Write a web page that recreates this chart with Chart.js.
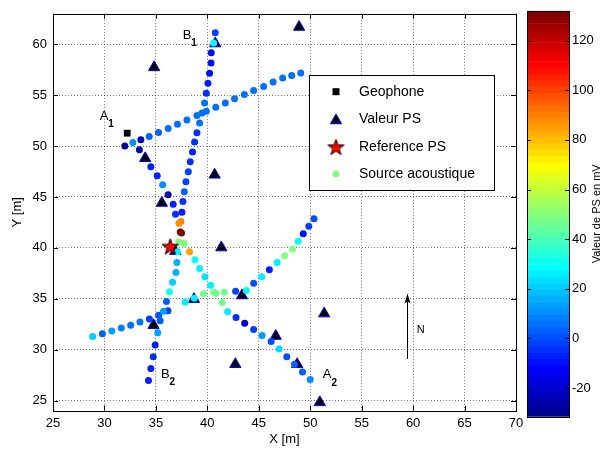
<!DOCTYPE html>
<html>
<head>
<meta charset="utf-8">
<script src="https://cdn.jsdelivr.net/npm/chart.js@4/dist/chart.umd.min.js"></script>
<style>
  html, body { margin: 0; padding: 0; background: #fff; }
  #wrap { position: relative; width: 609px; height: 450px; }
  #plot { position: absolute; left: 0; top: 0; }
  #cbar { position: absolute; left: 520px; top: 0; }
</style>
</head>
<body>
<div id="wrap">
  <canvas id="plot" width="609" height="450"></canvas>
  <canvas id="cbar" width="89" height="450"></canvas>
</div>
<script>
// profil A1 -> nord-est
const lineNE_x = [31.98,32.76,33.54,34.35,35.25,36.20,37.10,38.02,38.99,39.90,40.82,41.75,42.65,43.60,44.50,45.47,46.39,47.32,48.20,49.08];
const lineNE_y = [50.01,50.36,50.62,50.94,51.33,51.72,52.15,52.57,53.00,53.42,53.81,54.23,54.65,55.08,55.47,55.86,56.29,56.69,56.93,57.19];
const lineNE_mv = [-27,10,-24,2,4,5,5,6,6,6,6,6,6,6,6,6,6,6,6,6];

// profil A1 -> A2
const lineA_x = [33.40,34.51,35.13,35.66,36.19,36.68,36.91,37.24,37.37,37.76,38.27,38.80,39.25,39.77,40.32,40.84,41.43,41.97,42.79,43.63,44.50,45.32,46.20,46.98,47.72,48.47,49.25,50.00];
const lineA_y = [49.65,47.96,47.08,46.19,45.23,44.29,43.31,42.43,41.56,40.42,39.61,38.83,37.98,37.17,36.32,35.54,34.64,33.73,33.15,32.59,31.98,31.39,30.81,30.06,29.31,28.57,27.81,27.06];
const lineA_mv = [-27,-6,-6,10,-24,-8,-5,88,132,50,85,28,26,24,26,46,46,26,-5,-20,-3,14,0,24,0,2,3,10];

// profil B1 -> B2
const lineB_x = [40.77,40.61,40.38,40.36,40.22,40.06,39.90,39.73,39.48,39.25,38.99,38.76,38.56,38.34,38.15,37.92,37.76,37.63,37.53,37.43,37.49,37.24,37.10,37.04,36.95,36.62,36.32,36.03,35.74,35.42,35.18,34.93,34.74,34.51,34.28];
const lineB_y = [61.15,60.14,59.17,58.16,57.15,56.18,55.20,54.23,53.26,52.28,51.30,50.40,49.42,48.45,47.47,46.50,45.52,44.55,43.51,42.60,41.46,40.58,39.61,38.57,37.59,36.62,35.68,34.74,33.76,32.83,31.65,30.45,29.31,28.14,26.97];
const lineB_mv = [-2,28,-10,-10,-10,-8,-4,5,6,5,-4,-4,-6,-4,-2,-2,3,-4,-6,90,130,50,27,16,16,20,30,2,14,2,12,-6,-4,-6,-6];

// profil sud-ouest -> nord-est
const lineSW_x = [28.85,29.80,30.72,31.64,32.55,33.45,34.37,35.27,36.17,37.85,38.73,39.63,40.61,41.65,42.75,43.79,44.50,45.28,46.03,46.78,47.52,48.28,48.83,49.32,49.86,50.37];
const lineSW_y = [31.29,31.55,31.84,32.13,32.40,32.71,33.00,33.39,33.83,34.67,35.06,35.49,35.64,35.64,35.74,35.81,36.52,37.17,37.85,38.56,39.22,39.90,40.65,41.39,42.12,42.85];
const lineSW_mv = [22,3,12,8,6,6,-2,0,-3,27,27,46,48,46,-3,28,0,27,-8,26,48,50,28,-10,-3,0];

// valeurs PS (triangles)
const ps_x = [48.92,40.77,34.83,33.96,40.71,35.58,41.36,36.88,38.70,43.37,34.77,42.72,46.65,48.73,51.36,50.93];
const ps_y = [61.70,60.08,57.74,48.80,47.18,44.41,40.03,39.68,34.96,35.32,32.40,28.56,31.33,28.56,33.54,24.82];

const geo_x = [32.21], geo_y = [51.27];
const ref_x = [36.39], ref_y = [40.17];

const xTicks = [25,30,35,40,45,50,55,60,65,70];
const yTicks = [25,30,35,40,45,50,55,60];
const cbTicks = [-20,0,20,40,60,80,100,120];
const cMin = -31.5, cMax = 132;

Chart.defaults.font.family = '"Liberation Sans", Arial, Helvetica, sans-serif';
Chart.defaults.color = '#000';

// colormap jet(64) comme matlab
function jetMap(m) {
  const n = Math.ceil(m / 4);
  const u = [];
  for (let i = 1; i <= n; i++) u.push(i / n);
  for (let i = 0; i < n - 1; i++) u.push(1);
  for (let i = n; i >= 1; i--) u.push(i / n);
  const J = [];
  for (let i = 0; i < m; i++) J.push([0, 0, 0]);
  const g0 = Math.ceil(n / 2) - (m % 4 === 1 ? 1 : 0);
  u.forEach(function (val, k) {
    const g = g0 + k + 1, r = g + n, b = g - n;
    if (r >= 1 && r <= m) J[r - 1][0] = val;
    if (g >= 1 && g <= m) J[g - 1][1] = val;
    if (b >= 1 && b <= m) J[b - 1][2] = val;
  });
  return J;
}
const jet = jetMap(64);
function rgb(c) {
  return 'rgb(' + Math.round(c[0] * 255) + ',' + Math.round(c[1] * 255) + ',' + Math.round(c[2] * 255) + ')';
}
function colorOf(v) {
  let k = Math.floor((v - cMin) / (cMax - cMin) * 64);
  k = Math.max(0, Math.min(63, k));
  return rgb(jet[k]);
}
function pts(xs, ys) {
  return xs.map(function (x, i) { return { x: x, y: ys[i] }; });
}

function makeStar(R) {
  const c = document.createElement('canvas');
  const s = Math.ceil(2 * R + 4);
  c.width = s; c.height = s;
  const g = c.getContext('2d');
  g.beginPath();
  for (let k = 0; k < 10; k++) {
    const rr = k % 2 ? R * 0.4 : R;
    const a = k * Math.PI / 5;
    g.lineTo(s / 2 + Math.sin(a) * rr, s / 2 + 1 - Math.cos(a) * rr);
  }
  g.closePath();
  g.fillStyle = '#ff0000';
  g.fill();
  g.strokeStyle = '#000';
  g.lineWidth = 1;
  g.stroke();
  return c;
}
const starImg = makeStar(8.5);

function drawTri(ctx, x, y, r) {
  ctx.beginPath();
  for (let k = 0; k < 3; k++) {
    const a = k * 2 * Math.PI / 3;
    ctx.lineTo(x + Math.sin(a) * r, y - Math.cos(a) * r);
  }
  ctx.closePath();
  ctx.fillStyle = '#000';
  ctx.fill();
  ctx.strokeStyle = '#0000ff';
  ctx.lineWidth = 1;
  ctx.stroke();
}

const FONT = '"Liberation Sans", Arial, Helvetica, sans-serif';

// cadre, graduations interieures, textes et legende
const framePlugin = {
  id: 'frame',
  afterDraw(chart) {
    const ctx = chart.ctx, a = chart.chartArea;
    const xs = chart.scales.x, ys = chart.scales.y;
    ctx.save();
    ctx.strokeStyle = '#000';
    ctx.lineWidth = 1;
    ctx.beginPath();
    xTicks.forEach(function (t) {
      const px = Math.round(xs.getPixelForValue(t)) + 0.5;
      ctx.moveTo(px, a.bottom); ctx.lineTo(px, a.bottom - 5);
      ctx.moveTo(px, a.top); ctx.lineTo(px, a.top + 5);
    });
    yTicks.forEach(function (t) {
      const py = Math.round(ys.getPixelForValue(t)) + 0.5;
      ctx.moveTo(a.left, py); ctx.lineTo(a.left + 5, py);
      ctx.moveTo(a.right, py); ctx.lineTo(a.right - 5, py);
    });
    ctx.stroke();
    ctx.strokeRect(Math.round(a.left) + 0.5, Math.round(a.top) + 0.5,
      Math.round(a.right - a.left), Math.round(a.bottom - a.top));

    // noms des profils
    ctx.fillStyle = '#000';
    ctx.textAlign = 'center';
    ctx.textBaseline = 'middle';
    [['A', '1', 29.97, 52.93], ['B', '1', 38.02, 60.85], ['B', '2', 35.91, 27.59], ['A', '2', 51.65, 27.52]].forEach(function (l) {
      const px = xs.getPixelForValue(l[2]), py = ys.getPixelForValue(l[3]);
      ctx.font = '13px ' + FONT;
      ctx.fillText(l[0], px, py);
      ctx.font = 'bold 10px ' + FONT;
      ctx.fillText(l[1], px + 7, py + 8);
    });

    // fleche nord
    const ax = Math.round(xs.getPixelForValue(59.37)) + 0.5;
    const ay0 = ys.getPixelForValue(29.08), ay1 = ys.getPixelForValue(35.51);
    ctx.beginPath();
    ctx.moveTo(ax, ay0); ctx.lineTo(ax, ay1 + 6);
    ctx.stroke();
    ctx.beginPath();
    ctx.moveTo(ax, ay1);
    ctx.lineTo(ax - 3, ay1 + 10);
    ctx.lineTo(ax, ay1 + 8);
    ctx.lineTo(ax + 3, ay1 + 10);
    ctx.closePath();
    ctx.fill();
    ctx.font = '11px ' + FONT;
    ctx.fillText('N', xs.getPixelForValue(60.73), ys.getPixelForValue(31.98));

    // legende
    const lx = 309.5, ly = 75.5, lw = 185, lh = 115;
    ctx.fillStyle = '#fff';
    ctx.fillRect(lx, ly, lw, lh);
    ctx.strokeStyle = '#000';
    ctx.strokeRect(lx, ly, lw, lh);
    const mx = 336, tx = 359;
    const rows = [91.7, 119, 146.7, 174];
    ctx.fillStyle = '#000';
    ctx.fillRect(mx - 3.5, rows[0] - 3.5, 7, 7);
    drawTri(ctx, mx, rows[1] + 1.5, 6.5);
    ctx.drawImage(starImg, mx - starImg.width / 2, rows[2] - starImg.height / 2);
    ctx.beginPath();
    ctx.arc(mx, rows[3], 3.5, 0, 2 * Math.PI);
    ctx.fillStyle = colorOf(50);
    ctx.fill();
    ctx.fillStyle = '#000';
    ctx.font = '14px ' + FONT;
    ctx.textAlign = 'left';
    ['Geophone', 'Valeur PS', 'Reference PS', 'Source acoustique'].forEach(function (t, i) {
      ctx.fillText(t, tx, rows[i]);
    });
    ctx.restore();
  }
};

function dotSet(xs, ys, mv) {
  return {
    label: 'Source acoustique',
    data: pts(xs, ys),
    pointRadius: 3.5,
    pointBackgroundColor: mv.map(colorOf),
    pointBorderWidth: 0,
    order: 2,
    clip: false
  };
}

new Chart(document.getElementById('plot'), {
  type: 'scatter',
  data: {
    datasets: [
      { label: 'Geophone', data: pts(geo_x, geo_y), pointStyle: 'rect', pointRadius: 4.8,
        pointBackgroundColor: '#000', pointBorderWidth: 0, order: 0, clip: false },
      { label: 'Reference PS', data: pts(ref_x, ref_y), pointStyle: starImg, order: 1, clip: false },
      dotSet(lineNE_x, lineNE_y, lineNE_mv),
      dotSet(lineA_x, lineA_y, lineA_mv),
      dotSet(lineB_x, lineB_y, lineB_mv),
      dotSet(lineSW_x, lineSW_y, lineSW_mv),
      { label: 'Valeur PS', data: pts(ps_x, ps_y), pointStyle: 'triangle', pointRadius: 6.5,
        pointBackgroundColor: '#000', pointBorderColor: '#0000ff', pointBorderWidth: 1, order: 3, clip: false }
    ]
  },
  options: {
    responsive: false,
    animation: false,
    events: [],
    layout: { padding: { top: 10, right: 93, bottom: 0, left: 0 } },
    plugins: { legend: { display: false }, tooltip: { enabled: false } },
    scales: {
      x: {
        type: 'linear', min: 25, max: 70,
        ticks: { stepSize: 5, includeBounds: false, padding: 5, maxRotation: 0, font: { size: 13 }, color: '#000' },
        grid: { color: 'rgba(0,0,0,0.55)', drawTicks: false },
        border: { display: false, dash: [1, 2] },
        title: { display: true, text: 'X [m]', font: { size: 13 }, color: '#000', padding: { top: 0, bottom: 3 } },
        afterFit(s) { s.height = 39.3; }
      },
      y: {
        type: 'linear', min: 24, max: 63,
        ticks: { stepSize: 5, includeBounds: false, padding: 6, font: { size: 13 }, color: '#000' },
        grid: { color: 'rgba(0,0,0,0.55)', drawTicks: false },
        border: { display: false, dash: [1, 2] },
        title: { display: true, text: 'Y [m]', font: { size: 13 }, color: '#000', padding: { top: 10, bottom: 0 } },
        afterFit(s) { s.width = 53; }
      }
    }
  },
  plugins: [framePlugin]
});

// barre de couleur
const cbStep = (cMax - cMin) / 64;
const cbFrame = {
  id: 'cbFrame',
  afterDraw(chart) {
    const ctx = chart.ctx, a = chart.chartArea, ys = chart.scales.y;
    ctx.save();
    ctx.strokeStyle = '#000';
    ctx.lineWidth = 1;
    ctx.beginPath();
    cbTicks.forEach(function (t) {
      const py = Math.round(ys.getPixelForValue(t)) + 0.5;
      ctx.moveTo(a.left, py); ctx.lineTo(a.left + 4, py);
      ctx.moveTo(a.right, py); ctx.lineTo(a.right - 4, py);
    });
    ctx.stroke();
    ctx.strokeRect(Math.round(a.left) + 0.5, Math.round(a.top) + 0.5,
      Math.round(a.right - a.left), Math.round(a.bottom - a.top));
    ctx.translate(77, (a.top + a.bottom) / 2);
    ctx.rotate(-Math.PI / 2);
    ctx.fillStyle = '#000';
    ctx.font = '11px ' + FONT;
    ctx.textAlign = 'center';
    ctx.textBaseline = 'middle';
    ctx.fillText('Valeur de PS en mV', 0, 0);
    ctx.restore();
  }
};

new Chart(document.getElementById('cbar'), {
  type: 'bar',
  data: {
    labels: [''],
    datasets: jet.map(function (c, k) {
      return {
        data: [[cMin + k * cbStep, cMin + (k + 1) * cbStep]],
        backgroundColor: rgb(c),
        borderWidth: 0,
        grouped: false,
        barPercentage: 1,
        categoryPercentage: 1
      };
    })
  },
  options: {
    responsive: false,
    animation: false,
    events: [],
    layout: { padding: { top: 4, left: 7, bottom: 33.3, right: 0 } },
    plugins: { legend: { display: false }, tooltip: { enabled: false } },
    scales: {
      x: { display: false },
      y: {
        position: 'right', min: cMin, max: cMax,
        ticks: { stepSize: 20, includeBounds: false, padding: 3, font: { size: 13 }, color: '#000' },
        grid: { display: false, drawTicks: false },
        border: { display: false },
        afterFit(s) { s.width = 40; }
      }
    }
  },
  plugins: [cbFrame]
});
</script>
</body>
</html>
